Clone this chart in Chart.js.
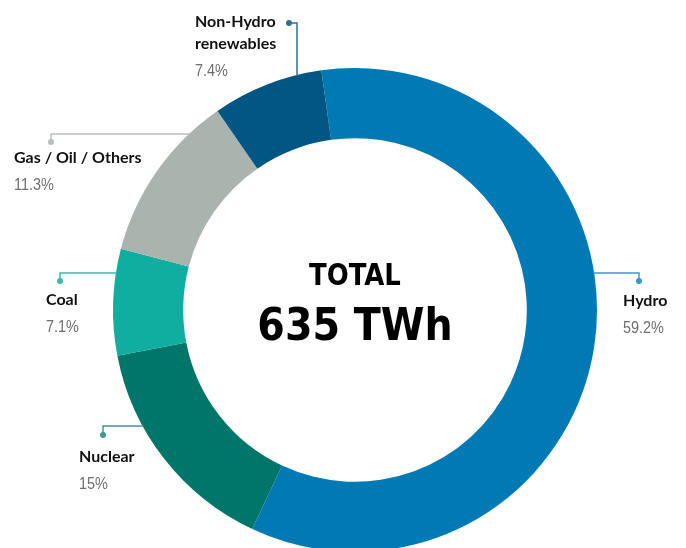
<html>
  <head>
    <script src="https://cdn.jsdelivr.net/npm/chart.js@4.4.1/dist/chart.umd.min.js"></script>
    <style>
      body { margin: 0; overflow: hidden; background: #fff; }
      #wrap { width: 686px; height: 552px; }
    </style>
    <script>
      // data, in drawing order (clockwise from the top)
      var sources = ['Hydro', 'Nuclear', 'Coal', 'Gas / Oil / Others', 'Non-Hydro renewables']
      var shares = [59.2, 15, 7.1, 11.3, 7.4]
      var shareLabels = ['59.2%', '15%', '7.1%', '11.3%', '7.4%']
      var totalTitle = 'TOTAL'
      var totalValue = '635 TWh'

      var colours = ['#0079b4', '#00766b', '#10aea1', '#a9b4ae', '#015683']
      var lineColours = ['#3d96c8', '#3b9a91', '#3bb8ad', '#b7c1bc', '#2e6f95']

      // where each label sits: text x, first baseline, dot position, elbow
      // side: 'left' / 'right' = horizontal run to the ring, 'top' = vertical drop
      var labelLayout = [
        { lines: ['Hydro'], x: 623, y: 306, dot: [639, 281], elbow: 273, side: 'right' },
        { lines: ['Nuclear'], x: 79, y: 462, dot: [103, 435], elbow: 426, side: 'left' },
        { lines: ['Coal'], x: 46, y: 305, dot: [60, 281], elbow: 273, side: 'left' },
        { lines: ['Gas / Oil / Others'], x: 14, y: 163, dot: [51, 142], elbow: 134, side: 'left' },
        { lines: ['Non-Hydro', 'renewables'], x: 195, y: 27, dot: [289, 23], elbow: 297, side: 'top' },
      ]

      function squeezedText(ctx, text, x, y, sx) {
        ctx.save()
        ctx.translate(x, y)
        ctx.scale(sx, 1)
        ctx.fillText(text, 0, 0)
        ctx.restore()
      }

      var calloutPlugin = {
        id: 'callouts',
        afterDraw: function (chart) {
          var ctx = chart.ctx
          var arc = chart.getDatasetMeta(0).data[0]
          var cx = arc.x, cy = arc.y, R = arc.outerRadius
          ctx.save()
          labelLayout.forEach(function (l, i) {
            ctx.strokeStyle = lineColours[i]
            ctx.fillStyle = lineColours[i]
            ctx.lineWidth = 1.5
            ctx.beginPath()
            ctx.moveTo(l.dot[0], l.dot[1])
            if (l.side === 'top') {
              ctx.lineTo(l.elbow, l.dot[1])
              var dx = l.elbow - cx
              ctx.lineTo(l.elbow, cy - Math.sqrt(R * R - dx * dx) + 1)
            } else {
              ctx.lineTo(l.dot[0], l.elbow)
              var dy = l.elbow - cy
              var half = Math.sqrt(R * R - dy * dy) - 1
              ctx.lineTo(l.side === 'left' ? cx - half : cx + half, l.elbow)
            }
            ctx.stroke()
            ctx.beginPath()
            ctx.arc(l.dot[0], l.dot[1], 3, 0, Math.PI * 2)
            ctx.fill()

            ctx.textAlign = 'left'
            ctx.textBaseline = 'alphabetic'
            ctx.fillStyle = '#111'
            ctx.font = 'bold 16px Lato'
            var y = l.y
            l.lines.forEach(function (t, k) {
              ctx.fillText(t, l.x, y + k * 22)
            })
            y += (l.lines.length - 1) * 22 + 27
            ctx.fillStyle = '#6e6e6e'
            ctx.font = '17px "Liberation Sans"'
            squeezedText(ctx, shareLabels[i], l.x, y, 0.85)
          })

          // centre total
          ctx.fillStyle = '#000'
          ctx.textAlign = 'center'
          ctx.font = 'bold 31px "DejaVu Sans Condensed", "DejaVu Sans"'
          squeezedText(ctx, totalTitle, cx, cy - 25, 0.93)
          ctx.font = 'bold 44px "DejaVu Sans Condensed", "DejaVu Sans"'
          squeezedText(ctx, totalValue, cx, cy + 30, 1)
          ctx.restore()
        },
      }

      function init() {
        new Chart(document.getElementById('donut'), {
          type: 'doughnut',
          data: {
            labels: sources,
            datasets: [{ data: shares, backgroundColor: colours, borderWidth: 0 }],
          },
          options: {
            responsive: false,
            animation: false,
            rotation: -8,
            cutout: '71%',
            layout: { padding: { top: 68, bottom: 0, left: 113, right: 89 } },
            plugins: { legend: { display: false }, tooltip: { enabled: false } },
          },
          plugins: [calloutPlugin],
        })
      }
    </script>
  </head>
  <body onload="init()">
    <div id="wrap">
      <canvas id="donut" width="686" height="552"></canvas>
    </div>
  </body>
</html>
